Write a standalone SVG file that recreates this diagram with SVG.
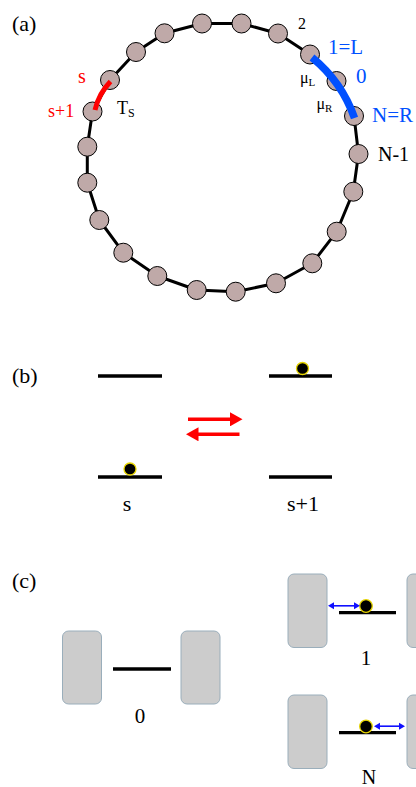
<svg xmlns="http://www.w3.org/2000/svg" width="416" height="787" viewBox="0 0 416 787" font-family="'Liberation Serif', 'DejaVu Serif', serif">
<style>
  text { font-family: 'Liberation Serif', 'DejaVu Serif', serif; }
  .lbl { font-size: 20px; fill: #000; }
  .panel { font-size: 22px; fill: #000; }
  .red { fill: #ff0000; }
  .blue { fill: #0050ff; }
  .node { fill: #bfa9a8; stroke: #000; stroke-width: 1; }
  .ring { fill: none; stroke: #000; stroke-width: 3; stroke-linejoin: round; }
  .level { stroke: #000; stroke-width: 3.3; }
  .ball { fill: #000; stroke: #e6d400; stroke-width: 1.3; }
  .pad { fill: #cccccc; stroke: #9aaebb; stroke-width: 1; }
  .redarrow { stroke: #ff0000; stroke-width: 3.5; fill: none; }
  .bluearrow { stroke: #1010ff; stroke-width: 1.6; fill: none; }
</style>
<defs>
  <marker id="redHead" markerUnits="userSpaceOnUse" markerWidth="13" markerHeight="14" viewBox="0 0 13 14" refX="0.5" refY="7" orient="auto">
    <path d="M0,0 L12.5,7 L0,14 z" fill="#ff0000"/>
  </marker>
  <marker id="blueHead" markerUnits="userSpaceOnUse" markerWidth="7" markerHeight="8" viewBox="0 0 7 8" refX="1" refY="4" orient="auto-start-reverse">
    <path d="M0,0.5 L6,4 L0,7.5 z" fill="#1010ff"/>
  </marker>
</defs>
<rect width="416" height="787" fill="#fff"/>

<!-- Panel (a) -->
<text class="panel" x="12" y="31">(a)</text>
<g id="connectors-a">
  <polygon class="ring" points="202,23.5 241.5,23.5 278,33.5 310,54.5 336.5,81 354,116 358.5,154 353.3,191.7 336.7,231.7 312.3,263.3 276,283.3 235.7,291.7 196.7,290 157.3,276 123.3,252.7 99.3,220 87.3,182.7 87.3,146.7 92.5,111.5 110,80 136,52 164.5,33.3"/>
</g>
<g id="nodes-a">
  <circle class="node" cx="202" cy="23.5" r="9.5"/>
  <circle class="node" cx="241.5" cy="23.5" r="9.5"/>
  <circle class="node" cx="278" cy="33.5" r="9.5"/>
  <circle class="node" cx="310" cy="54.5" r="9.5"/>
  <circle class="node" cx="336.5" cy="81" r="9.5"/>
  <circle class="node" cx="354" cy="116" r="9.5"/>
  <circle class="node" cx="358.5" cy="154" r="9.5"/>
  <circle class="node" cx="353.3" cy="191.7" r="9.5"/>
  <circle class="node" cx="336.7" cy="231.7" r="9.5"/>
  <circle class="node" cx="312.3" cy="263.3" r="9.5"/>
  <circle class="node" cx="276" cy="283.3" r="9.5"/>
  <circle class="node" cx="235.7" cy="291.7" r="9.5"/>
  <circle class="node" cx="196.7" cy="290" r="9.5"/>
  <circle class="node" cx="157.3" cy="276" r="9.5"/>
  <circle class="node" cx="123.3" cy="252.7" r="9.5"/>
  <circle class="node" cx="99.3" cy="220" r="9.5"/>
  <circle class="node" cx="87.3" cy="182.7" r="9.5"/>
  <circle class="node" cx="87.3" cy="146.7" r="9.5"/>
  <circle class="node" cx="92.5" cy="111.5" r="9.5"/>
  <circle class="node" cx="110" cy="80" r="9.5"/>
  <circle class="node" cx="136" cy="52" r="9.5"/>
  <circle class="node" cx="164.5" cy="33.3" r="9.5"/>
</g>
<g id="bonds-a">
  <path d="M312,57.5 A136 136 0 0 1 354.5,118" fill="none" stroke="#0050ff" stroke-width="7.5"/>
  <path d="M110.5,81.5 A60 60 0 0 0 95,110" fill="none" stroke="#ff0000" stroke-width="5"/>
</g>
<g id="labels-a">
  <text class="lbl" x="298" y="29" style="font-size:16px">2</text>
  <text class="lbl blue" x="328" y="54" style="font-size:21px">1=L</text>
  <text class="lbl blue" x="356" y="83" style="font-size:21px">0</text>
  <text class="lbl blue" x="372" y="122" style="font-size:21px">N=R</text>
  <text class="lbl" x="378" y="161">N-1</text>
  <text class="lbl" x="300" y="83" style="font-size:16px">μ<tspan dy="3" style="font-size:11px">L</tspan></text>
  <text class="lbl" x="316.5" y="109" style="font-size:16px">μ<tspan dy="3" style="font-size:11px">R</tspan></text>
  <text class="lbl red" x="78" y="83">s</text>
  <text class="lbl red" x="48" y="117" style="font-size:18px">s+1</text>
  <text class="lbl" x="117" y="114" style="font-size:18px">T<tspan dy="3" style="font-size:12px">S</tspan></text>
</g>

<!-- Panel (b) -->
<text class="panel" x="12" y="383">(b)</text>
<g id="level-s">
  <line class="level" x1="98" y1="376" x2="162" y2="376"/>
  <line class="level" x1="98" y1="477" x2="162" y2="477"/>
  <circle class="ball" cx="130" cy="469" r="6"/>
  <text class="panel" x="127" y="511" text-anchor="middle">s</text>
</g>
<g id="level-s1">
  <line class="level" x1="269" y1="376" x2="332" y2="376"/>
  <line class="level" x1="269" y1="477" x2="332" y2="477"/>
  <circle class="ball" cx="302.5" cy="368.5" r="6"/>
  <text class="panel" x="287" y="511">s+1</text>
</g>
<g id="connectors-b">
  <line class="redarrow" x1="188" y1="419.3" x2="230.5" y2="419.3" marker-end="url(#redHead)"/>
  <line class="redarrow" x1="239.5" y1="434.3" x2="198" y2="434.3" marker-end="url(#redHead)"/>
</g>

<!-- Panel (c) -->
<text class="panel" x="12" y="588">(c)</text>
<g id="site-0">
  <rect class="pad" x="62.5" y="631" width="39" height="73" rx="6"/>
  <rect class="pad" x="181" y="631" width="39" height="73" rx="6"/>
  <line class="level" x1="113" y1="669" x2="171" y2="669"/>
  <text class="lbl" x="140" y="723" text-anchor="middle" style="font-size:21px">0</text>
</g>
<g id="site-1">
  <rect class="pad" x="288" y="574" width="39" height="73.5" rx="6"/>
  <rect class="pad" x="407" y="574" width="39" height="73.5" rx="6"/>
  <line class="level" x1="339" y1="612.7" x2="396" y2="612.7"/>
  <circle class="ball" cx="366" cy="606" r="6.3"/>
  <text class="lbl" x="366" y="665" text-anchor="middle" style="font-size:21px">1</text>
</g>
<g id="site-N">
  <rect class="pad" x="288" y="695" width="39" height="73.5" rx="6"/>
  <rect class="pad" x="407" y="695" width="39" height="73.5" rx="6"/>
  <line class="level" x1="339" y1="732.7" x2="396" y2="732.7"/>
  <circle class="ball" cx="366" cy="726.5" r="6.3"/>
  <text class="lbl" x="369" y="784" text-anchor="middle">N</text>
</g>
<g id="connectors-c">
  <line class="bluearrow" x1="333" y1="605.8" x2="355" y2="605.8" marker-start="url(#blueHead)" marker-end="url(#blueHead)"/>
  <line class="bluearrow" x1="379" y1="726.2" x2="400" y2="726.2" marker-start="url(#blueHead)" marker-end="url(#blueHead)"/>
</g>
</svg>
